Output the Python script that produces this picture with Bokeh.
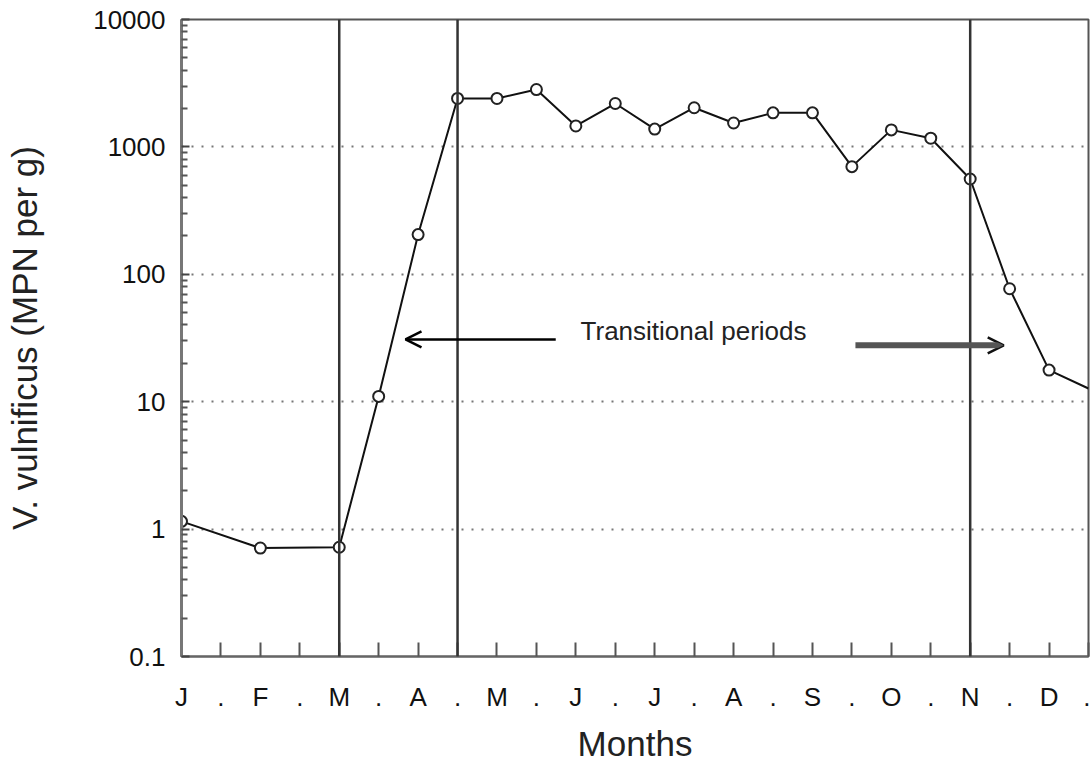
from bokeh.plotting import figure
from bokeh.models import (Range1d, FixedTicker, CustomJSTickFormatter, Span, Arrow,
                          OpenHead, ColumnDataSource, CDSView, IndexFilter)
from bokeh.core.properties import value
from bokeh.embed import file_html
from bokeh.resources import INLINE

# ---- data (x in half-month steps, 0 = January) ----
month_labels = ["J", ".", "F", ".", "M", ".", "A", ".", "M", ".", "J", ".",
                "J", ".", "A", ".", "S", ".", "O", ".", "N", ".", "D", "."]
half_month = [0, 2, 4, 5, 6, 7, 8, 9, 10, 11, 12, 13, 14, 15, 16, 17, 18, 19, 20, 21, 22, 23]
mpn_per_g = [1.15, 0.71, 0.72, 11, 205, 2400, 2400, 2820, 1460, 2190, 1380, 2030,
             1540, 1850, 1850, 700, 1360, 1170, 560, 77, 17.7, 12.7]
y_ticks = [0.1, 1, 10, 100, 1000, 10000]
boundaries = [4, 7, 20]
annot_text = ["Transitional periods"]
annot_x = [10.12]
annot_y = [36]
arrow_left = dict(x_start=9.49, x_end=5.68, y=30.8)
arrow_right = dict(x_start=17.09, x_end=20.95, y=27.7)

FONT = "Liberation Sans"

p = figure(width=1090, height=766, x_range=Range1d(0, 23), y_range=Range1d(0.1, 10000),
           y_axis_type="log", output_backend="svg", toolbar_location=None,
           min_border_left=181, min_border_right=2, min_border_top=19, min_border_bottom=110,
           background_fill_color="white", border_fill_color="white")

p.outline_line_color = "#555555"
p.outline_line_width = 2

# axes
p.xaxis.ticker = FixedTicker(ticks=list(range(24)))
p.xaxis.formatter = CustomJSTickFormatter(args=dict(labels=month_labels),
                                          code="return labels[Math.round(tick)] || '';")
p.xaxis.major_tick_in = 14
p.xaxis.major_tick_out = 0
p.xaxis.minor_tick_line_color = None
p.xaxis.major_tick_line_color = "#555555"
p.xaxis.major_tick_line_width = 2
p.xaxis.axis_line_color = "#666666"
p.xaxis.axis_line_width = 2
p.xaxis.major_label_standoff = 25
p.xaxis.axis_label = "Months"
p.xaxis.axis_label_standoff = 9

minor = [k * t for t in y_ticks[:-1] for k in range(2, 10)]
p.yaxis.ticker = FixedTicker(ticks=y_ticks, minor_ticks=minor)
p.yaxis.formatter = CustomJSTickFormatter(code="return tick < 1 ? tick.toFixed(1) : tick.toFixed(0);")
p.yaxis.major_tick_in = 8
p.yaxis.major_tick_out = 0
p.yaxis.minor_tick_in = 6
p.yaxis.minor_tick_out = 0
p.yaxis.major_tick_line_color = "#444444"
p.yaxis.minor_tick_line_color = "#555555"
p.yaxis.major_tick_line_width = 2
p.yaxis.minor_tick_line_width = 2
p.yaxis.axis_line_color = "#777777"
p.yaxis.axis_line_width = 3
p.yaxis.major_label_standoff = 16
p.yaxis.axis_label = "V. vulnificus (MPN per g)"
p.yaxis.axis_label_standoff = 46

for ax in (p.xaxis, p.yaxis):
    ax.major_label_text_font = FONT
    ax.major_label_text_font_size = "26px"
    ax.major_label_text_color = "#111111"
    ax.axis_label_text_font = FONT
    ax.axis_label_text_font_size = "35px"
    ax.axis_label_text_font_style = "normal"
    ax.axis_label_text_color = "#222222"

# grid
p.xgrid.visible = False
p.ygrid.grid_line_color = "#777777"
p.ygrid.grid_line_dash = "2 8"
p.ygrid.grid_line_width = 2
p.ygrid.minor_grid_line_color = None

# period boundaries
for b in boundaries:
    p.add_layout(Span(location=b, dimension="height", line_color="#333333", line_width=2.5))

# series
src = ColumnDataSource(dict(x=half_month, y=mpn_per_g))
p.line("x", "y", source=src, line_color="#111111", line_width=2)
view = CDSView(filter=IndexFilter(list(range(len(half_month) - 1))))
p.scatter("x", "y", source=src, view=view, marker="circle", size=11,
          fill_color="white", line_color="#222222", line_width=2)

# annotation
p.text(x=annot_x, y=annot_y, text=annot_text, text_font=value(FONT), text_font_size="26px",
       text_baseline="middle", text_align="left", text_color="#222222")
p.add_layout(Arrow(x_start=arrow_left["x_start"], y_start=arrow_left["y"],
                   x_end=arrow_left["x_end"], y_end=arrow_left["y"],
                   line_color="#000000", line_width=2.5,
                   end=OpenHead(size=16, line_color="#000000", line_width=2.5)))
p.add_layout(Arrow(x_start=arrow_right["x_start"], y_start=arrow_right["y"],
                   x_end=arrow_right["x_end"] - 0.1, y_end=arrow_right["y"],
                   line_color="#555555", line_width=6,
                   end=OpenHead(size=16, line_color="#111111", line_width=2.5)))

open("out.html", "w").write(file_html(p, INLINE))
